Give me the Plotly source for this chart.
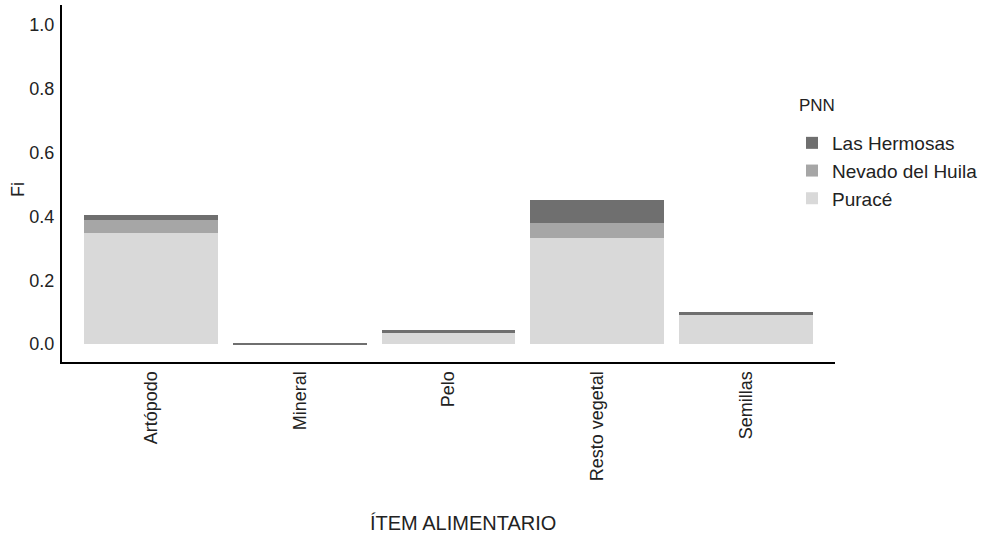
import plotly.graph_objects as go

categories = ["Artópodo", "Mineral", "Pelo", "Resto vegetal", "Semillas"]
puracé = [0.349, 0.0, 0.038, 0.334, 0.092]
nevado = [0.040, 0.0, 0.0, 0.046, 0.0]
hermosas = [0.016, 0.005, 0.006, 0.071, 0.008]
y_ticks = [0.0, 0.2, 0.4, 0.6, 0.8, 1.0]

series = [
    ("Puracé", puracé, "#d9d9d9"),
    ("Nevado del Huila", nevado, "#a6a6a6"),
    ("Las Hermosas", hermosas, "#6f6f6f"),
]

fig = go.Figure()
for name, vals, col in series:
    fig.add_trace(go.Bar(x=categories, y=vals, name=name,
                         marker=dict(color=col, line=dict(width=0)),
                         width=0.9))

W, H = 987, 537
L, R, T, B = 62, 152, 5, 175
pw, ph = W - L - R, H - T - B

def px(x):
    return (x - L) / pw

def py(y):
    return (H - B - y) / ph

font = "Liberation Sans, Arial, sans-serif"
fig.update_layout(
    barmode="stack",
    width=W, height=H,
    margin=dict(l=L, r=R, t=T, b=B, autoexpand=False),
    plot_bgcolor="white", paper_bgcolor="white",
    font=dict(family=font, size=18, color="#222"),
    legend=dict(traceorder="reversed", x=px(792), xanchor="left",
                y=py(124), yanchor="top", font=dict(size=19),
                tracegroupgap=0, itemwidth=30),
    xaxis=dict(range=[-0.6, 4.6], tickangle=-90, showline=True,
               linecolor="black", linewidth=2, ticks="", showgrid=False,
               automargin=False, tickfont=dict(size=18)),
    yaxis=dict(range=[-0.056, 1.063], tickvals=y_ticks,
               ticktext=[f"{v:.1f}" for v in y_ticks], showline=True,
               linecolor="black", linewidth=2, ticks="", showgrid=False,
               zeroline=False, ticklabelstandoff=2, automargin=False,
               tickfont=dict(size=18)),
    annotations=[
        dict(text="ÍTEM ALIMENTARIO", xref="paper", yref="paper",
             x=px(463), y=py(523), xanchor="center",
             yanchor="middle", showarrow=False,
             font=dict(family="Liberation Sans Narrow, Liberation Sans, sans-serif", size=20)),
        dict(text="Fi", xref="paper", yref="paper", textangle=-90,
             x=px(18), y=py(190), xanchor="center",
             yanchor="middle", showarrow=False, font=dict(size=18)),
        dict(text="PNN", xref="paper", yref="paper",
             x=px(797), y=py(105), xanchor="left",
             yanchor="middle", showarrow=False, font=dict(size=17)),
    ],
)
fig.write_html("out.html", config={"displayModeBar": False},
               post_script="document.body.style.margin='0';document.body.style.padding='0';")
